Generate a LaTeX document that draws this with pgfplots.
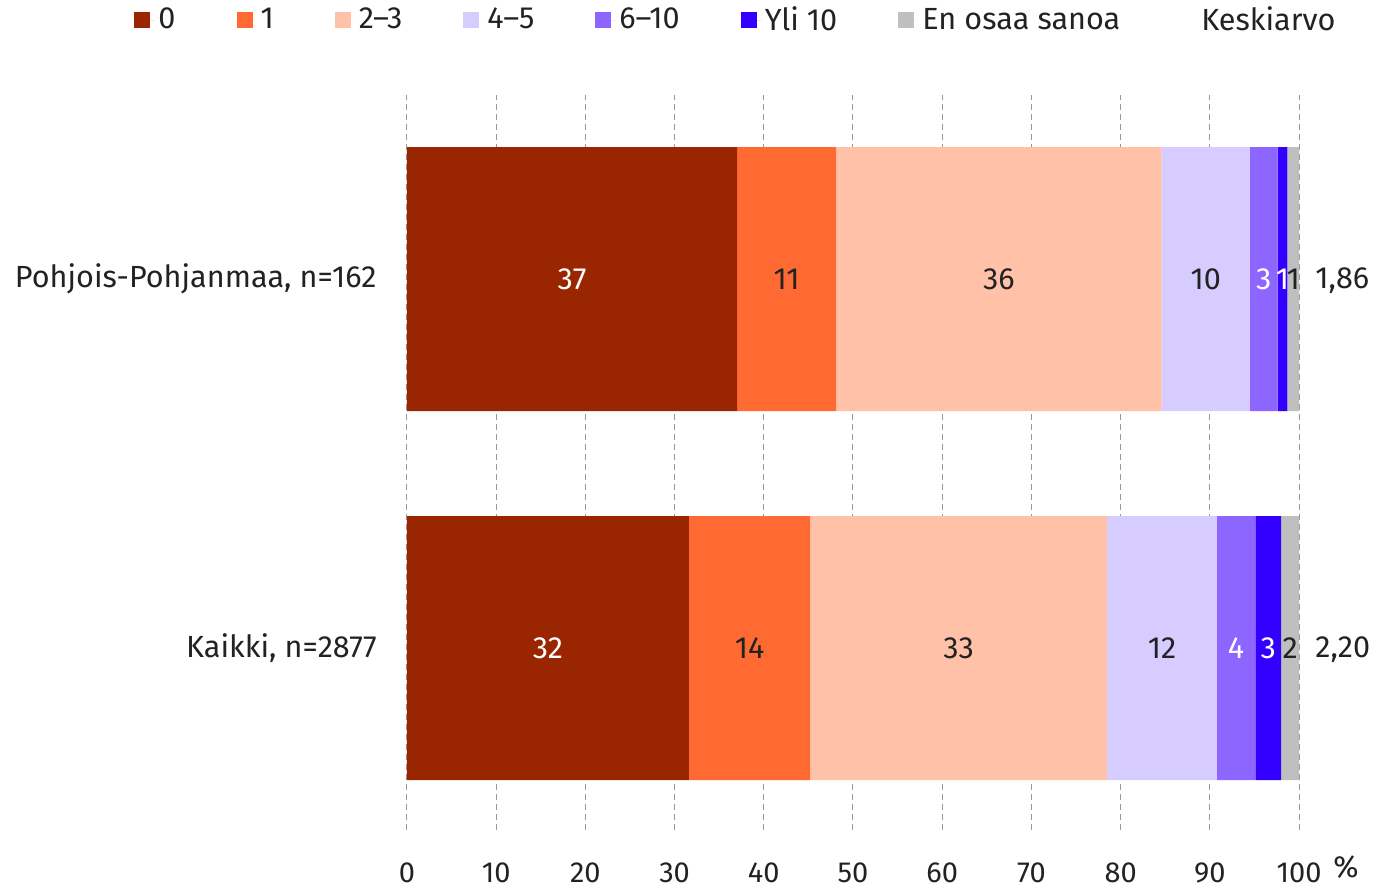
\documentclass[border=0pt]{standalone}
\usepackage{fontspec}
\setmainfont{Fira Sans}
\usepackage{pgfplots}
\pgfplotsset{compat=1.18}
\definecolor{c0}{HTML}{992600}
\definecolor{c1}{HTML}{FF6A33}
\definecolor{c23}{HTML}{FFC2A8}
\definecolor{c45}{HTML}{D6CCFF}
\definecolor{c610}{HTML}{8C66FF}
\definecolor{cyli}{HTML}{3300FF}
\definecolor{ceos}{HTML}{BFBFBF}
\definecolor{txt}{HTML}{222222}
\pgfplotsset{sqleg/.style={legend image code/.code={\fill[##1] (0pt,-4pt) rectangle (8pt,4pt); \path[draw=none] (0pt,0pt) -- (10pt,0pt);}}}
\newcommand{\lblfont}{\fontsize{15.3}{18}\selectfont}
\newcommand{\tickfont}{\fontsize{14.5}{17}\selectfont}
\begin{document}
\begin{tikzpicture}[font=\lblfont, text=txt]
\begin{axis}[name=ax, scale only axis, width=446pt, height=367.5pt,
  xbar stacked, bar width=132pt,
  xmin=0, xmax=100, ymin=-0.493, ymax=1.499,
  xtick={0,10,...,100}, ytick={0,1},
  yticklabels={{Kaikki, n=2877},{Pohjois-Pohjanmaa, n=162}},
  /pgf/number format/assume math mode=true,
  xticklabel style={font=\tickfont, text=txt, anchor=base, yshift=-26.3pt},
  yticklabel style={font=\lblfont, text=txt, anchor=east, inner sep=0pt, xshift=-15pt},
  axis line style={draw=none}, tick style={draw=none},
  xmajorgrids, ymajorgrids=false,
  major grid style={draw=gray!80, dash pattern=on 3pt off 2pt, line width=0.5pt},
  legend columns=-1,
  legend style={draw=none, fill=none, at={(-0.306,1.102)}, anchor=west, inner xsep=0pt,
    font=\lblfont, text=txt,
    /tikz/every even column/.append style={column sep=28.5pt}},
]
\addplot[fill=c0, draw=none, sqleg] coordinates {(37.0,1) (31.6,0)};
\addlegendentry{0}
\addplot[fill=c1, draw=none, sqleg] coordinates {(11.1,1) (13.6,0)};
\addlegendentry{1}
\addplot[fill=c23, draw=none, sqleg] coordinates {(36.5,1) (33.3,0)};
\addlegendentry{2–3}
\addplot[fill=c45, draw=none, sqleg] coordinates {(9.9,1) (12.3,0)};
\addlegendentry{4–5}
\addplot[fill=c610, draw=none, sqleg] coordinates {(3.1,1) (4.3,0)};
\addlegendentry{6–10}
\addplot[fill=cyli, draw=none, sqleg] coordinates {(1.1,1) (2.9,0)};
\addlegendentry{Yli 10}
\addplot[fill=ceos, draw=none, sqleg] coordinates {(1.3,1) (2.0,0)};
\addlegendentry{En osaa sanoa}
\addlegendimage{legend image code/.code={\path[draw=none] (0pt,0pt) -- (8pt,0pt);}}
\addlegendentry{Keskiarvo}
\end{axis}
\begin{axis}[scale only axis, width=446pt, height=367.5pt,
  xmin=0, xmax=100, ymin=-0.493, ymax=1.499, hide axis]
\addplot[draw=none, mark=none, nodes near coords, point meta=explicit symbolic,
  every node near coord/.style={anchor=center, text=white, font=\lblfont}]
  coordinates {(18.5,1) [37] (96.05,1) [3] (98.15,1) [1]
               (15.8,0) [32] (92.95,0) [4] (96.55,0) [3]};
\addplot[draw=none, mark=none, nodes near coords, point meta=explicit symbolic,
  every node near coord/.style={anchor=center, text=txt, font=\lblfont}]
  coordinates {(42.55,1) [11] (66.35,1) [36] (89.55,1) [10] (99.35,1) [1]
               (38.4,0) [14] (61.85,0) [33] (84.65,0) [12] (99.0,0) [2]};
\addplot[draw=none, mark=none, nodes near coords, point meta=explicit symbolic,
  every node near coord/.style={anchor=west, inner sep=0pt, xshift=8pt, yshift=-1pt, text=txt, font=\lblfont}]
  coordinates {(100,1) [{1,86}] (100,0) [{2,20}]};
\end{axis}
\pgfresetboundingbox
\path[use as bounding box] ([xshift=-203.5pt,yshift=-29.5pt]ax.south west) rectangle ([xshift=41pt,yshift=47.5pt]ax.north east);
\node[anchor=base, font=\lblfont, text=txt] at ([xshift=23.5pt,yshift=-23.5pt]ax.south east) {\%};
\end{tikzpicture}
\end{document}
